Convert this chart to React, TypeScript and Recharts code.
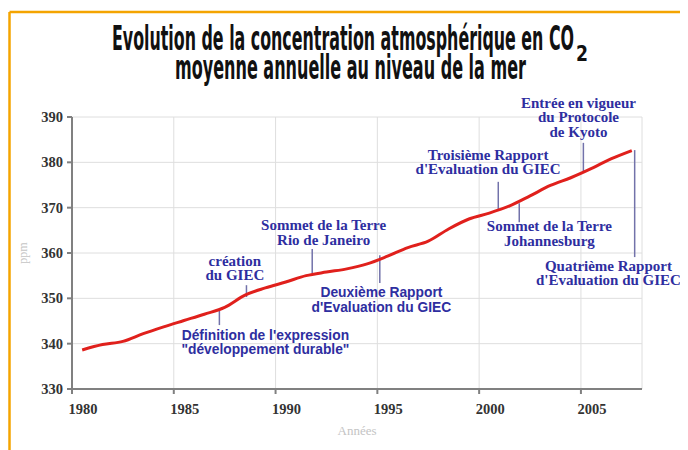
import React from 'react';
import { LineChart, Line, XAxis, YAxis, CartesianGrid, ReferenceLine, ReferenceDot } from 'recharts';

// Moyenne annuelle (ppm)
const years = [
  1980, 1981, 1982, 1983, 1984, 1985, 1986, 1987, 1988, 1989,
  1990, 1991, 1992, 1993, 1994, 1995, 1996, 1997, 1998, 1999,
  2000, 2001, 2002, 2003, 2004, 2005, 2006, 2007,
];
const co2 = [
  338.6, 339.8, 340.5, 342.2, 343.7, 345.1, 346.5, 348.0, 350.7, 352.3,
  353.6, 355.0, 355.8, 356.5, 357.6, 359.3, 361.2, 362.6, 365.3, 367.5,
  368.8, 370.4, 372.6, 374.9, 376.6, 378.6, 380.8, 382.6,
];
const xTicks = [1980, 1985, 1990, 1995, 2000, 2005];
const yTicks = [330, 340, 350, 360, 370, 380, 390];

// événements : texte (ancré en année / ppm) et trait de rappel
const events = [
  { lines: ['création', 'du GIEC'], x: 1988.0, y: 357.8, lx: 1988.57, ly: [352.9, 350.3], sans: false },
  { lines: ['Sommet de la Terre', 'Rio de Janeiro'], x: 1992.36, y: 365.7, lx: 1991.8, ly: [360.9, 355.6], sans: false },
  { lines: ['Deuxième Rapport', "d'Evaluation du GIEC"], x: 1995.2, y: 351.1, lx: 1995.12, ly: [359.5, 353.4], sans: true },
  { lines: ["Définition de l'expression", '"développement durable"'], x: 1989.5, y: 341.7, lx: 1987.24, ly: [347.4, 344.1], sans: true },
  { lines: ['Troisième Rapport', "d'Evaluation du GIEC"], x: 2000.44, y: 381.2, lx: 2000.94, ly: [375.7, 369.5], sans: false },
  { lines: ['Sommet de la Terre', 'Johannesburg'], x: 2003.45, y: 365.5, lx: 2001.97, ly: [371.0, 366.8], sans: false },
  { lines: ['Entrée en vigueur', 'du Protocole', 'de Kyoto'], x: 2004.88, y: 392.65, lx: 2005.12, ly: [384.3, 378.0], sans: false },
  { lines: ['Quatrième Rapport', "d'Evaluation du GIEC"], x: 2006.35, y: 356.7, lx: 2007.64, ly: [382.7, 359.1], sans: false },
];

const MID_YEAR = 0.5;
const data = years.map((y, i) => ({ x: y + MID_YEAR, ppm: co2[i] }));

const SERIF = "'Liberation Serif', 'DejaVu Serif', serif";
const SANS = "'Liberation Sans', Arial, sans-serif";
const BLUE = '#2e2ea0';
const LEADER = '#7272aa';
const TITLE_FONT = "'Liberation Sans Narrow', 'DejaVu Sans Condensed', sans-serif";

const App: React.FC = () => {
  return (
    <div style={{ position: 'relative', width: 688, height: 450, margin: '-8px 0 0 -8px', background: '#fff', overflow: 'hidden' }}>
      <div style={{ position: 'absolute', left: 0, top: 0 }}>
        <LineChart width={688} height={450} data={data} margin={{ top: 117, right: 46, left: 32, bottom: 31 }}>
          <CartesianGrid stroke="#dedede" strokeWidth={1} />
          <XAxis
            type="number"
            dataKey="x"
            domain={[1980, 2008]}
            ticks={xTicks}
            height={30}
            stroke="#808080"
            strokeWidth={2}
            tickSize={5}
            tickMargin={10}
            tick={{ dx: 11, fontSize: 14.5, fontFamily: SERIF, fontWeight: 'bold', fill: '#333' }}
          />
          <YAxis
            type="number"
            domain={[330, 390]}
            ticks={yTicks}
            width={40}
            stroke="#808080"
            strokeWidth={2}
            tickSize={5}
            tickMargin={4}
            tick={{ fontSize: 14.5, fontFamily: SERIF, fontWeight: 'bold', fill: '#333' }}
          />
          {events.map((e, i) => (
            <ReferenceLine
              key={`l${i}`}
              segment={[{ x: e.lx, y: e.ly[0] }, { x: e.lx, y: e.ly[1] }]}
              stroke={LEADER}
              strokeWidth={1.5}
              ifOverflow="visible"
            />
          ))}
          <Line
            type="monotone"
            dataKey="ppm"
            stroke="#e0201c"
            strokeWidth={3}
            dot={false}
            isAnimationActive={false}
          />
          {events.map((e, i) => (
            <ReferenceDot
              key={`t${i}`}
              x={e.x}
              y={e.y}
              r={0}
              ifOverflow="visible"
              shape={(p: any) => (
                <text
                  x={p.cx}
                  y={p.cy}
                  textAnchor="middle"
                  dominantBaseline="middle"
                  fill={BLUE}
                  fontFamily={e.sans ? SANS : SERIF}
                  fontWeight="bold"
                  fontSize={e.sans ? 13.8 : 15}
                >
                  {e.lines.map((l, k) => (
                    <tspan key={k} x={p.cx} dy={k === 0 ? 0 : 14.5}>{l}</tspan>
                  ))}
                </text>
              )}
            />
          ))}
        </LineChart>
      </div>
      <svg width={688} height={450} style={{ position: 'absolute', left: 0, top: 0, pointerEvents: 'none' }}>
        <line x1={9.5} y1={12} x2={688} y2={12} stroke="#f4a400" strokeWidth={2.5} />
        <line x1={9.5} y1={12} x2={9.5} y2={450} stroke="#f4a400" strokeWidth={2.5} />
        <text x={112} y={50} fontFamily={TITLE_FONT} fontWeight="bold" fontSize={33} textLength={462} lengthAdjust="spacingAndGlyphs" fill="#111">
          Evolution de la concentration atmosphérique en CO
        </text>
        <text x={576} y={61} fontFamily={TITLE_FONT} fontWeight="bold" fontSize={22} textLength={12} lengthAdjust="spacingAndGlyphs" fill="#111">
          2
        </text>
        <text x={175} y={79} fontFamily={TITLE_FONT} fontWeight="bold" fontSize={33} textLength={351} lengthAdjust="spacingAndGlyphs" fill="#111">
          moyenne annuelle au niveau de la mer
        </text>
        <text x={357} y={432} textAnchor="middle" dominantBaseline="middle" fontFamily={SERIF} fontSize={13} fill="#c4c4c4">
          Années
        </text>
        <text x={24} y={253} textAnchor="middle" dominantBaseline="middle" fontFamily={SERIF} fontSize={12} fill="#c4c4c4" transform="rotate(-90 24 253)">
          ppm
        </text>
      </svg>
    </div>
  );
};

export default App;
